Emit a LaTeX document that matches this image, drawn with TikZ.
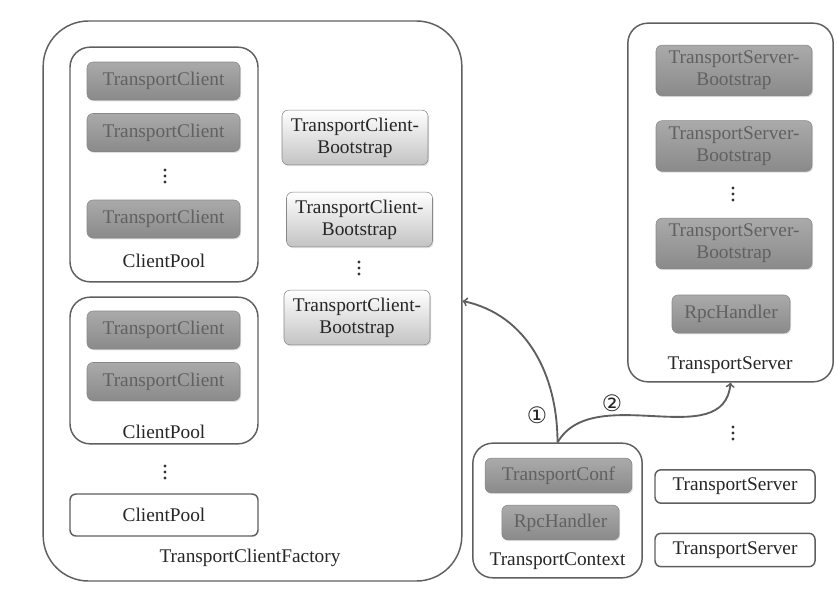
\documentclass[tikz,border=0pt]{standalone}
\usepackage{fontspec}
\setmainfont{Liberation Serif}
\newfontfamily\symfont{DejaVu Sans}
\usepackage{xcolor}
\usepackage{tikz}
\usetikzlibrary{arrows, shadows}
\definecolor{tgrey}{RGB}{135,135,135}
\definecolor{tdark}{RGB}{138,138,138}
\definecolor{tmid}{RGB}{170,170,170}
\definecolor{tlight}{RGB}{195,195,195}
\definecolor{tline}{RGB}{95,95,95}

\begin{document}
\begin{tikzpicture}[x=0.75pt, y=-0.75pt,
  every node/.style={font=\fontsize{14.5}{16.5}\selectfont, align=center, inner sep=0pt},
  darkbox/.style={draw=tgrey, rounded corners=4.5pt, top color=tmid, bottom color=tdark, text=black!62,
    drop shadow={opacity=0.25, shadow xshift=0.8pt, shadow yshift=-1pt}},
  lightbox/.style={draw=tgrey, rounded corners=4.5pt, top color=white, bottom color=tlight, text=black!85,
    drop shadow={opacity=0.25, shadow xshift=0.8pt, shadow yshift=-1pt}},
  plainbox/.style={draw=tline, line width=1.1pt, rounded corners=4.5pt, fill=white, text=black!85},
  pool/.style={draw=tline, line width=1.1pt, rounded corners=15pt},
  factory/.style={draw=tline, line width=1.1pt, rounded corners=34pt},
  vdot/.style={fill=black!80}]
\useasboundingbox (0,0) rectangle (837,589);

% Client factory
\node[factory, minimum width=314pt, minimum height=420pt] (factory) at (252.5,301) {};
\node[text=black!85] (factorylbl) at (250,558) {TransportClientFactory};

% First client pool
\node[pool, minimum width=141pt, minimum height=176pt] (poolA) at (164,164.5) {};
\node[darkbox, minimum width=114.75pt, minimum height=28.5pt] (tcA1) at (163.5,81) {TransportClient};
\node[darkbox, minimum width=114.75pt, minimum height=28.5pt] (tcA2) at (163.5,132.5) {TransportClient};
\node[darkbox, minimum width=114.75pt, minimum height=28.5pt] (tcA3) at (163.5,219) {TransportClient};
\node[text=black!85] (poolAlbl) at (164,261) {ClientPool};

% Second client pool
\node[pool, minimum width=141pt, minimum height=110pt] (poolB) at (164,370.5) {};
\node[darkbox, minimum width=114.75pt, minimum height=28.5pt] (tcB1) at (163.5,330) {TransportClient};
\node[darkbox, minimum width=114.75pt, minimum height=28.5pt] (tcB2) at (163.5,381.5) {TransportClient};
\node[text=black!85] (poolBlbl) at (164,432) {ClientPool};
\node[plainbox, minimum width=141pt, minimum height=31.5pt] (poolC) at (164,515) {ClientPool};

% Client bootstraps
\node[lightbox, minimum width=109.5pt, minimum height=41pt] (cbA) at (355,137.5) {TransportClient-\\Bootstrap};
\node[lightbox, minimum width=109.5pt, minimum height=41pt] (cbB) at (359.5,219.5) {TransportClient-\\Bootstrap};
\node[lightbox, minimum width=109.5pt, minimum height=41pt] (cbC) at (357,317.5) {TransportClient-\\Bootstrap};

% Transport server
\node[pool, minimum width=154pt, minimum height=269pt] (server) at (730.5,202.5) {};
\node[darkbox, minimum width=117pt, minimum height=38pt] (sbA) at (734,70.5) {TransportServer-\\Bootstrap};
\node[darkbox, minimum width=117pt, minimum height=38pt] (sbB) at (734,146) {TransportServer-\\Bootstrap};
\node[darkbox, minimum width=117pt, minimum height=38pt] (sbC) at (734,243.5) {TransportServer-\\Bootstrap};
\node[darkbox, minimum width=88.5pt, minimum height=28.5pt] (srvhandler) at (731,314) {RpcHandler};
\node[text=black!85] (serverlbl) at (730,365) {TransportServer};

\node[plainbox, minimum width=120pt, minimum height=25pt] (serverB) at (735,486.5) {TransportServer};
\node[plainbox, minimum width=120pt, minimum height=25pt] (serverC) at (735,550) {TransportServer};

% Transport context
\node[pool, minimum width=127pt, minimum height=101pt] (context) at (557.5,510.5) {};
\node[darkbox, minimum width=110pt, minimum height=26pt] (conf) at (558.5,475.5) {TransportConf};
\node[darkbox, minimum width=88pt, minimum height=26pt] (ctxhandler) at (560.5,522.5) {RpcHandler};
\node[text=black!85] (contextlbl) at (557.5,561) {TransportContext};

% Vertical dots
\foreach \x/\y in {165/176, 165/472, 359/268, 733/194, 733/433}
  \foreach \d in {-6,0,6}
    \fill[vdot] (\x,\y+\d) circle (1.2pt);

% Arrows
\draw[->, line width=1.4pt, tline] (context.north) to[out=90, in=-12] (factory.east);
\draw[->, line width=1.4pt, tline] (context.north) to[out=60, in=-95] (server.south);
\node[text=black!85, font=\fontsize{17}{17}\selectfont] (stepA) at (537,415) {\symfont ①};
\node[text=black!85, font=\fontsize{17}{17}\selectfont] (stepB) at (612,403) {\symfont ②};
\end{tikzpicture}
\end{document}
